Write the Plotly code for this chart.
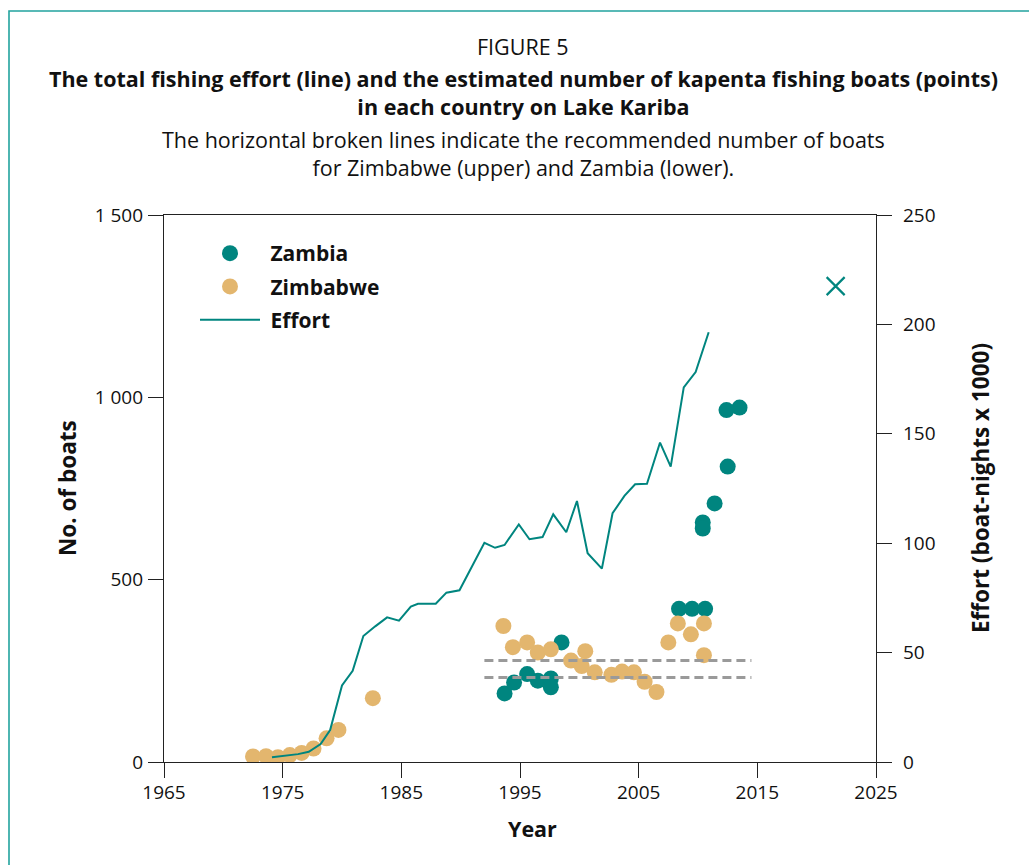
import plotly.graph_objects as go

# ---- data -------------------------------------------------------------
effort_year = [1974.1, 1975.3, 1976.3, 1977.2, 1978.2, 1979.0, 1980.0, 1980.9,
               1981.8, 1982.8, 1983.8, 1984.8, 1985.8, 1986.4, 1987.9, 1988.8,
               1989.9, 1992.0, 1992.9, 1993.7, 1994.9, 1995.8, 1996.9, 1997.8,
               1998.9, 1999.8, 2000.7, 2001.9, 2002.8, 2003.8, 2004.7, 2005.7,
               2006.8, 2007.7, 2008.8, 2009.8, 2010.9]
effort_value = [2.2, 3.0, 3.6, 4.7, 8.2, 14.6, 35.0, 41.7,
                57.6, 62.0, 66.1, 64.6, 71.0, 72.3, 72.3, 77.4,
                78.5, 100.2, 97.9, 99.2, 108.6, 101.8, 102.8, 113.2,
                105.0, 119.3, 95.4, 88.4, 113.7, 121.6, 126.9, 127.2,
                146.0, 135.0, 171.2, 178.2, 196.4]

zambia_year = [1993.7, 1994.5, 1995.6, 1996.5, 1997.6, 1997.6, 1998.5, 2008.4,
               2009.5, 2010.4, 2010.4, 2010.6, 2011.4, 2012.4, 2012.5, 2013.5]
zambia_boats = [188, 218, 241, 223, 229, 205, 328, 420,
                420, 657, 640, 420, 709, 965, 810, 972]

zimbabwe_year = [1972.5, 1973.6, 1974.6, 1975.6, 1976.6, 1977.6, 1978.7, 1979.7,
                 1982.6, 1993.6, 1994.4, 1995.6, 1996.5, 1997.6, 1999.3, 2000.2,
                 2000.5, 2001.3, 2002.7, 2003.6, 2004.6, 2005.5, 2006.5, 2007.5,
                 2008.3, 2009.4, 2010.5, 2010.5]
zimbabwe_boats = [15, 16, 13, 19, 25, 37, 65, 88,
                  175, 373, 315, 328, 300, 309, 278, 263,
                  304, 246, 239, 248, 246, 220, 192, 328,
                  380, 350, 380, 293]

# recommended number of boats (broken lines)
recommended_span = [1992.0, 2014.5]
recommended_zimbabwe = 278
recommended_zambia = 232

# effort target marker
target_year = [2021.6]
target_effort = [217.5]

x_ticks = [1965, 1975, 1985, 1995, 2005, 2015, 2025]
y_ticks = [0, 500, 1000, 1500]
y_tick_text = ["0", "500", "1 000", "1 500"]
y2_ticks = [0, 50, 100, 150, 200, 250]

# ---- styling ----------------------------------------------------------
TEAL = "#00857F"
TAN = "#E3B66E"
GREY = "#9A9A9A"
FONT = "Open Sans"
NBSP = "\u00a0"

W, H = 1029, 865
L, R, T, B = 164, 876, 215, 762


def px(x):
    return (x - L) / (R - L)


def py(y):
    return (B - y) / (B - T)


fig = go.Figure()

fig.add_trace(go.Scatter(
    x=zambia_year, y=zambia_boats, mode="markers", name=NBSP + "Zambia",
    marker=dict(color=TEAL, size=16), legendgroup="a", legendrank=1))
fig.add_trace(go.Scatter(
    x=zimbabwe_year, y=zimbabwe_boats, mode="markers", name=NBSP + "Zimbabwe",
    marker=dict(color=TAN, size=16), legendgroup="b", legendrank=2))

for level in (recommended_zimbabwe, recommended_zambia):
    fig.add_trace(go.Scatter(
        x=recommended_span, y=[level, level], mode="lines",
        line=dict(color=GREY, width=3, dash="9px,5px"), showlegend=False,
        hoverinfo="skip"))

fig.add_trace(go.Scatter(
    x=effort_year, y=effort_value, mode="lines", name=NBSP + "Effort", yaxis="y2",
    line=dict(color=TEAL, width=2), legendgroup="c", legendrank=3))
fig.add_trace(go.Scatter(
    x=target_year, y=target_effort, mode="markers", yaxis="y2", showlegend=False,
    marker=dict(symbol="x-thin", size=18, line=dict(color=TEAL, width=2.2))))

axis_common = dict(
    showgrid=False, zeroline=False, showline=True, linecolor="#222",
    linewidth=1.3, ticks="outside", ticklen=15, tickwidth=1.3, tickcolor="#222",
    tickfont=dict(family=FONT, size=19, color="#111"))

fig.update_layout(
    width=W, height=H,
    margin=dict(l=L, r=W - R, t=T, b=H - B),
    paper_bgcolor="white", plot_bgcolor="white",
    font=dict(family=FONT, color="#111"),
    xaxis=dict(range=[1965, 2025], tickvals=x_ticks, mirror=True,
               ticklabelstandoff=-2, **axis_common),
    yaxis=dict(range=[0, 1500], tickvals=y_ticks, ticktext=y_tick_text,
               ticklabelstandoff=1, **axis_common),
    yaxis2=dict(range=[0, 250], tickvals=y2_ticks, overlaying="y", side="right",
                ticklabelstandoff=7, **axis_common),
    showlegend=True,
    legend=dict(x=px(195), y=py(233), xanchor="left", yanchor="top",
                bgcolor="rgba(0,0,0,0)", traceorder="grouped", tracegroupgap=3,
                itemwidth=60,
                font=dict(family=FONT, size=21, color="#111", weight="bold")),
)

# figure heading: label, bold title (two lines), explanatory note (two lines)
heading_blocks = [
    ("FIGURE 5", 46),
    ("<b>The total fishing effort (line) and the estimated number of kapenta fishing boats (points)"
     "<br>in each country on Lake Kariba</b>", 92),
    ("The horizontal broken lines indicate the recommended number of boats"
     "<br>for Zimbabwe (upper) and Zambia (lower).", 153),
]
for text, ypix in heading_blocks:
    fig.add_annotation(
        text=text, xref="paper", yref="paper",
        x=px(523), y=py(ypix), xanchor="center", yanchor="middle",
        showarrow=False, font=dict(family=FONT, size=21.5, color="#111"))

fig.add_annotation(text="<b>No. of boats</b>", xref="paper", yref="paper",
                   x=px(67), y=py(488), textangle=-90, showarrow=False,
                   xanchor="center", yanchor="middle", font=dict(family=FONT, size=22.5))
fig.add_annotation(text="<b>Effort (boat-nights x 1000)</b>", xref="paper", yref="paper",
                   x=px(980), y=py(488), textangle=-90, showarrow=False,
                   xanchor="center", yanchor="middle", font=dict(family=FONT, size=22.5))
fig.add_annotation(text="<b>Year</b>", xref="paper", yref="paper",
                   x=px(532), y=py(828), showarrow=False,
                   xanchor="center", yanchor="middle", font=dict(family=FONT, size=21.5))

# page frame
fig.add_shape(type="rect", xref="paper", yref="paper",
              x0=px(9), y0=py(11), x1=px(1100), y1=py(950),
              line=dict(color="#22A39E", width=1.6), layer="below")

fig.write_html("out.html")
